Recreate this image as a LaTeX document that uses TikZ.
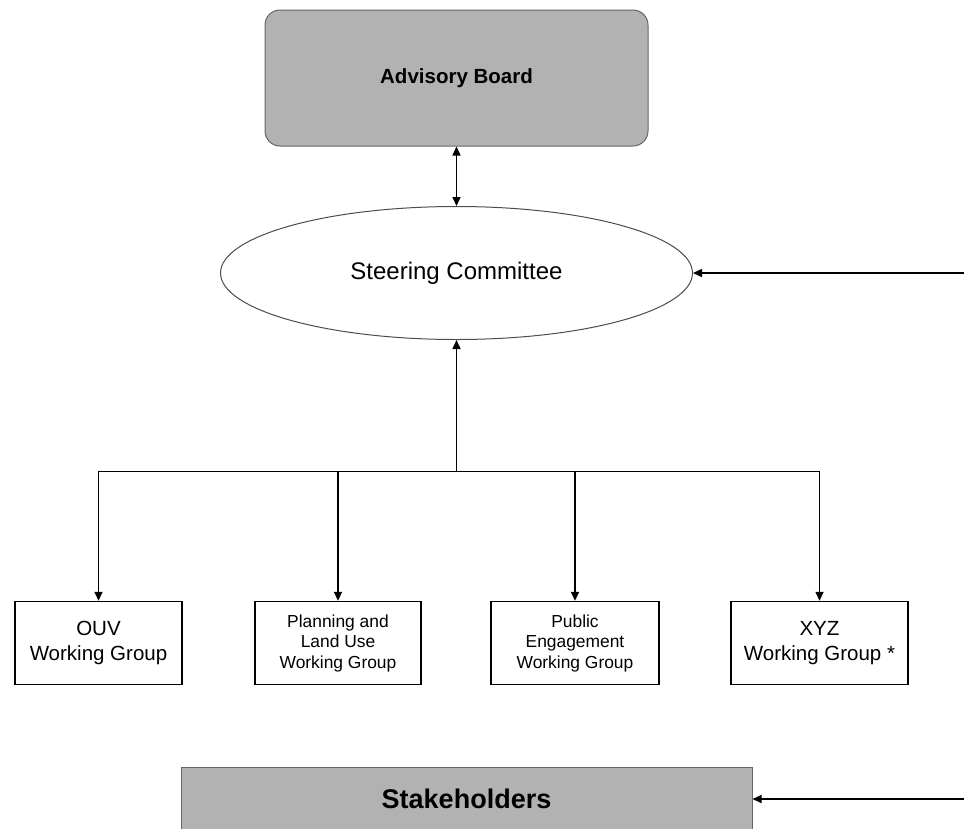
\documentclass[tikz,border=0pt]{standalone}
\usepackage{fontspec}
\setmainfont{Liberation Sans}
\usetikzlibrary{shapes.geometric,arrows.meta}
\begin{document}
\begin{tikzpicture}[x=1pt,y=-1pt,
  arr/.style={line width=1.5pt,-{Triangle[length=9pt,width=8pt]}},
  darr/.style={line width=1.5pt,{Triangle[length=9pt,width=8pt]}-{Triangle[length=9pt,width=8pt]}},
  graybox/.style={draw=black!60,fill=black!30,line width=1pt,inner sep=0pt},
  wgbox/.style={draw=black,line width=1.4pt,minimum width=167pt,minimum height=83pt,inner sep=0pt,align=center}]
\useasboundingbox (0,0) rectangle (964,828);
\clip (0,0) rectangle (964,828);
\node[graybox,rounded corners=15pt,minimum width=383pt,minimum height=136pt,font=\fontsize{20.5}{24}\selectfont\bfseries] (ab) at (456.5,78) {Advisory Board};
\node[draw=black!70,line width=1pt,ellipse,minimum width=472pt,minimum height=133pt,inner sep=0pt,font=\fontsize{24}{28}\selectfont] (sc) at (456.5,273) {Steering Committee};
\node[wgbox,font=\fontsize{20.5}{25}\selectfont] (b1) at (98.5,643) {OUV\\Working Group};
\node[wgbox,minimum width=166pt,font=\fontsize{17.4}{20.5}\selectfont] (b2) at (338,643) {Planning and\\Land Use\\Working Group};
\node[wgbox,minimum width=168pt,font=\fontsize{17.4}{20.5}\selectfont] (b3) at (575,643) {Public\\Engagement\\Working Group};
\node[wgbox,minimum width=177pt,font=\fontsize{20.5}{25}\selectfont] (b4) at (819.5,643) {XYZ\\Working Group *};
\node[graybox,minimum width=571pt,minimum height=64pt,font=\fontsize{27}{31}\selectfont\bfseries] (st) at (466.5,799) {Stakeholders};
\coordinate (br) at (456.5,471.5);
\coordinate (r1) at (964,273);
\coordinate (r2) at (964,799);
\draw[darr] (ab.south) -- (sc.north);
\draw[arr] (br) -- (sc.south);
\draw[arr] (br) -| (b1.north);
\draw[arr] (br) -| (b2.north);
\draw[arr] (br) -| (b3.north);
\draw[arr] (br) -| (b4.north);
\draw[arr] (r1) -- (sc.east);
\draw[arr] (r2) -- (st.east);
\end{tikzpicture}
\end{document}
